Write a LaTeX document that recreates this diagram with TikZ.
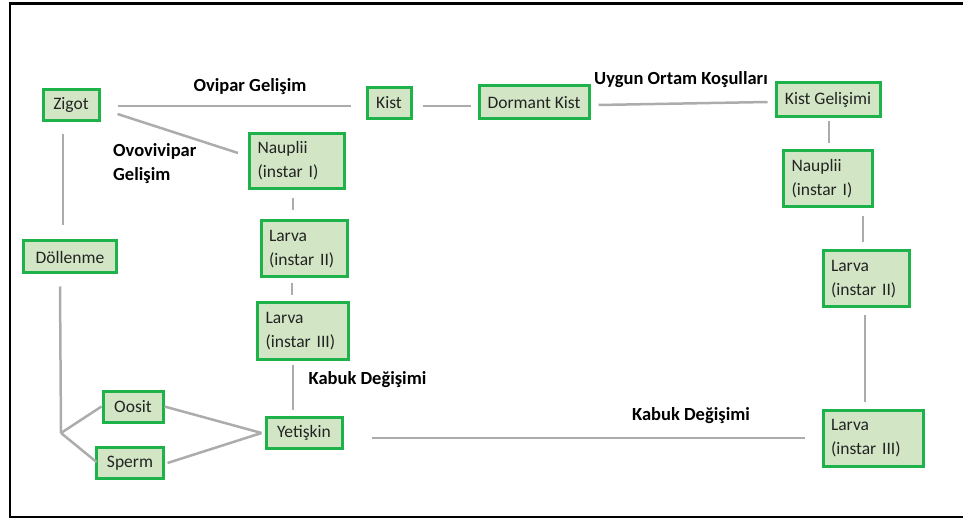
\documentclass[tikz,border=0pt]{standalone}
\usepackage{fontspec}
\setmainfont{Carlito}
\definecolor{boxfill}{RGB}{210,230,197}
\definecolor{boxline}{RGB}{30,178,74}
\definecolor{connline}{RGB}{172,172,172}
\definecolor{txt}{RGB}{35,35,35}
\begin{document}
\begin{tikzpicture}[x=1pt,y=-1pt,
  box/.style={draw=boxline, fill=boxfill, line width=3pt, rectangle, inner sep=0pt,
    text=txt, font=\fontsize{17.5}{24}\selectfont},
  twobox/.style={box, align=left, inner xsep=8pt},
  conn/.style={draw=connline, line width=2.5pt},
  lbl/.style={font=\bfseries\fontsize{18.5}{24}\selectfont, text=black, inner sep=0pt}]
\useasboundingbox (0,0) rectangle (963,518);
% frame
\draw[line width=3pt] (9,4) -- (963,4);
\draw[line width=2pt] (10,4) -- (10,516.5) -- (963,516.5);

% nodes
\node[box, minimum width=56pt, minimum height=31pt] (zigot) at (71,105) {Zigot};
\node[box, minimum width=44pt, minimum height=31pt] (kist) at (389,103) {Kist};
\node[box, minimum width=110pt, minimum height=33pt] (dormant) at (534,102.5) {Dormant Kist};
\node[box, minimum width=104pt, minimum height=34pt] (kistgel) at (828,100) {Kist Gelişimi};
\node[twobox, text width=73pt, minimum height=56pt] (naupR) at (828,179) {Nauplii\\(instar I)};
\node[twobox, text width=70pt, minimum height=56pt] (larvaIIR) at (866,279) {Larva\\(instar II)};
\node[twobox, text width=84pt, minimum height=56pt] (larvaIIIR) at (873,438) {Larva\\(instar III)};
\node[twobox, text width=79pt, minimum height=55pt] (naupL) at (297,161) {Nauplii\\(instar I)};
\node[twobox, text width=70pt, minimum height=56pt] (larvaIIL) at (304,249) {Larva\\(instar II)};
\node[twobox, text width=75pt, minimum height=56pt] (larvaIIIL) at (303,331) {Larva\\(instar III)};
\node[box, minimum width=76pt, minimum height=31pt] (yetiskin) at (304,433) {Yetişkin};
\node[box, minimum width=93pt, minimum height=32pt] (dollenme) at (70,257) {Döllenme};
\node[box, minimum width=60pt, minimum height=31pt] (oosit) at (133,406.5) {Oosit};
\node[box, minimum width=67pt, minimum height=31pt] (sperm) at (130,463) {Sperm};
\coordinate (junc) at (61,433);

% labels
\node[lbl] (lovipar) at (250,87) {Ovipar Gelişim};
\node[lbl, align=left, anchor=west] (lovov) at (113,164) {Ovovivipar\\Gelişim};
\node[lbl] (luygun) at (681,80) {Uygun Ortam Koşulları};
\node[lbl] (lkabuk1) at (367.5,380) {Kabuk Değişimi};
\node[lbl] (lkabuk2) at (691,416) {Kabuk Değişimi};

% connectors
\draw[conn] ([xshift=17pt,yshift=-1pt]zigot.east) -- ([xshift=-15pt,yshift=-3pt]kist.west);
\draw[conn] ([xshift=17pt,yshift=-9pt]zigot.east) -- ([xshift=-10pt,yshift=8pt]naupL.west);
\draw[conn] ([xshift=-8pt,yshift=-12.5pt]zigot.south) -- ([xshift=-7pt,yshift=14pt]dollenme.north);
\draw[conn] ([xshift=-10pt,yshift=-12pt]dollenme.south) -- (junc);
\draw[conn] (junc) -- (oosit.west);
\draw[conn] (junc) -- ([xshift=1.5pt,yshift=1pt]sperm.west);
\draw[conn] (oosit.east) -- ([xshift=-3pt]yetiskin.west);
\draw[conn] ([xshift=2.5pt]sperm.east) -- ([xshift=-3pt]yetiskin.west);
\draw[conn] ([xshift=28pt,yshift=-5pt]yetiskin.east) -- ([xshift=-17pt]larvaIIIR.west);
\draw[conn] ([xshift=10pt,yshift=-3pt]kist.east) -- ([xshift=-7pt,yshift=-3.5pt]dormant.west);
\draw[conn] ([xshift=8pt,yshift=-2.5pt]dormant.east) -- ([xshift=-7pt,yshift=-2pt]kistgel.west);
\draw[conn] ([xshift=1pt,yshift=-3pt]kistgel.south) -- ([xshift=1pt,yshift=6pt]naupR.north);
\draw[conn] ([xshift=35pt,yshift=-8pt]naupR.south) -- ([xshift=-3pt,yshift=7pt]larvaIIR.north);
\draw[conn] ([xshift=-1pt,yshift=-7pt]larvaIIR.south) -- ([xshift=-8pt,yshift=7pt]larvaIIIR.north);
\draw[conn] ([xshift=-4pt,yshift=-8pt]naupL.south) -- ([xshift=-11pt,yshift=9pt]larvaIIL.north);
\draw[conn] ([xshift=-12pt,yshift=-5pt]larvaIIL.south) -- ([xshift=-11pt,yshift=6pt]larvaIIIL.north);
\draw[conn] ([xshift=-10pt,yshift=-4pt]larvaIIIL.south) -- ([xshift=-11pt,yshift=6pt]yetiskin.north);
\end{tikzpicture}
\end{document}
